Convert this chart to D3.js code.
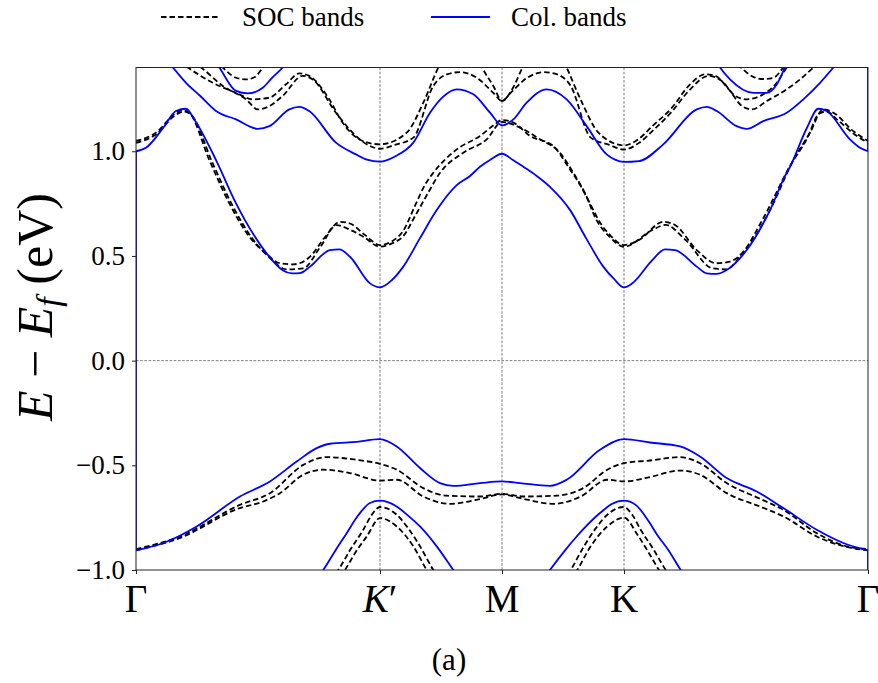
<!DOCTYPE html>
<html>
<head>
<meta charset="utf-8">
<script src="https://cdn.jsdelivr.net/npm/d3@7"></script>
<style>
  html, body { margin: 0; padding: 0; background: #fff; }
  svg { display: block; }
</style>
</head>
<body>
<svg id="chart" width="878" height="683"></svg>
<script>
// ---------- DATA (k-path coordinate, energy in eV) ----------
const kPositions = [0, 2, 3, 4, 6];
const kLabels = ["Γ", "K′", "M", "K", "Γ"];
const yTicks = [-1.0, -0.5, 0.0, 0.5, 1.0];
const legendLabels = ["SOC bands", "Col. bands"];
const panelLabel = "(a)";

// Collinear (Col.) bands, ordered from low to high energy
const colV2 = [[0.000,-1.700],[0.800,-1.450],[1.300,-1.150],[1.535,-1.000],[1.631,-0.910],[1.727,-0.824],[1.820,-0.740],[1.918,-0.680],[2.000,-0.669],[2.137,-0.697],[2.230,-0.740],[2.328,-0.792],[2.465,-0.887],[2.601,-1.000],[2.750,-1.120],[3.000,-1.200],[3.250,-1.120],[3.393,-1.000],[3.525,-0.900],[3.612,-0.840],[3.803,-0.728],[3.900,-0.685],[4.000,-0.669],[4.096,-0.689],[4.205,-0.770],[4.270,-0.830],[4.370,-0.910],[4.465,-1.000],[4.700,-1.150],[5.200,-1.450],[6.000,-1.700]];
const colV1 = [[0.000,-0.906],[0.224,-0.871],[0.498,-0.792],[0.852,-0.649],[1.098,-0.577],[1.317,-0.482],[1.481,-0.418],[1.590,-0.397],[1.809,-0.388],[2.000,-0.375],[2.137,-0.410],[2.328,-0.513],[2.492,-0.585],[2.601,-0.598],[2.820,-0.585],[3.000,-0.577],[3.148,-0.585],[3.393,-0.598],[3.530,-0.569],[3.803,-0.426],[4.000,-0.375],[4.213,-0.391],[4.459,-0.410],[4.623,-0.458],[4.842,-0.561],[5.088,-0.625],[5.306,-0.704],[5.580,-0.808],[5.798,-0.871],[6.000,-0.906]];
const colB1 = [[0.000,1.000],[0.082,1.017],[0.221,1.110],[0.328,1.192],[0.410,1.203],[0.478,1.152],[0.656,0.958],[0.820,0.751],[0.957,0.608],[1.093,0.496],[1.202,0.432],[1.279,0.417],[1.344,0.418],[1.426,0.449],[1.590,0.528],[1.666,0.531],[1.754,0.496],[1.918,0.369],[2.000,0.350],[2.098,0.385],[2.191,0.449],[2.328,0.585],[2.465,0.719],[2.629,0.838],[2.738,0.882],[2.820,0.926],[2.902,0.958],[3.000,0.988],[3.090,0.958],[3.175,0.926],[3.285,0.882],[3.393,0.830],[3.557,0.720],[3.689,0.585],[3.830,0.449],[3.918,0.390],[4.000,0.350],[4.068,0.369],[4.232,0.480],[4.336,0.531],[4.418,0.528],[4.596,0.449],[4.678,0.417],[4.760,0.414],[4.842,0.433],[5.006,0.528],[5.197,0.719],[5.320,0.882],[5.361,0.926],[5.498,1.110],[5.593,1.203],[5.661,1.192],[5.852,1.057],[5.934,1.017],[6.000,1.000]];
const colB2 = [[0.000,1.580],[0.115,1.500],[0.301,1.400],[0.410,1.327],[0.525,1.265],[0.656,1.192],[0.820,1.152],[0.998,1.107],[1.093,1.120],[1.257,1.200],[1.339,1.212],[1.420,1.192],[1.639,1.041],[1.803,0.985],[1.893,0.960],[2.000,0.950],[2.123,0.975],[2.273,1.041],[2.410,1.184],[2.516,1.260],[2.629,1.296],[2.765,1.272],[2.902,1.184],[3.000,1.124],[3.093,1.152],[3.202,1.232],[3.366,1.296],[3.530,1.248],[3.694,1.120],[3.858,0.985],[3.926,0.960],[4.000,0.949],[4.123,0.953],[4.322,1.033],[4.596,1.200],[4.678,1.212],[4.760,1.192],[4.924,1.120],[5.006,1.107],[5.142,1.144],[5.334,1.184],[5.470,1.248],[5.607,1.327],[5.716,1.400],[5.852,1.500],[6.000,1.580]];
const colB3 = [[0.000,1.750],[0.443,1.600],[0.683,1.400],[0.820,1.288],[0.916,1.276],[1.039,1.303],[1.115,1.350],[1.202,1.400],[1.344,1.520],[2.000,1.700],[3.000,1.750],[4.000,1.700],[4.664,1.520],[4.787,1.400],[4.869,1.343],[5.060,1.279],[5.170,1.279],[5.252,1.319],[5.320,1.400],[5.566,1.600],[6.000,1.750]];

// SOC bands
const socS4 = [[0.000,-1.800],[0.900,-1.500],[1.450,-1.150],[1.713,-1.000],[1.800,-0.915],[1.891,-0.840],[2.000,-0.752],[2.137,-0.792],[2.273,-0.887],[2.383,-1.000],[2.650,-1.200],[3.000,-1.280],[3.350,-1.200],[3.617,-1.000],[3.727,-0.887],[3.863,-0.792],[4.000,-0.750],[4.109,-0.830],[4.200,-0.915],[4.287,-1.000],[4.550,-1.150],[5.100,-1.500],[6.000,-1.800]];
const socS3 = [[0.000,-1.750],[0.900,-1.450],[1.400,-1.150],[1.658,-1.000],[1.760,-0.900],[1.863,-0.808],[1.934,-0.735],[2.000,-0.699],[2.137,-0.736],[2.230,-0.800],[2.328,-0.887],[2.437,-1.000],[2.700,-1.180],[3.000,-1.250],[3.300,-1.180],[3.563,-1.000],[3.672,-0.887],[3.770,-0.800],[3.863,-0.736],[4.000,-0.699],[4.066,-0.735],[4.137,-0.808],[4.240,-0.900],[4.342,-1.000],[4.600,-1.150],[5.100,-1.450],[6.000,-1.750]];
const socS2 = [[0.000,-0.906],[0.361,-0.847],[0.852,-0.704],[1.043,-0.673],[1.180,-0.633],[1.371,-0.545],[1.535,-0.521],[1.754,-0.537],[2.000,-0.573],[2.137,-0.569],[2.355,-0.649],[2.574,-0.684],[2.820,-0.661],[3.000,-0.639],[3.180,-0.661],[3.426,-0.684],[3.645,-0.649],[3.863,-0.569],[4.000,-0.577],[4.213,-0.556],[4.459,-0.525],[4.623,-0.545],[4.842,-0.633],[5.115,-0.697],[5.306,-0.744],[5.580,-0.840],[5.825,-0.890],[6.000,-0.906]];
const socS1 = [[0.000,-0.900],[0.361,-0.840],[0.852,-0.689],[1.098,-0.633],[1.371,-0.498],[1.563,-0.461],[1.809,-0.474],[2.000,-0.493],[2.137,-0.521],[2.355,-0.609],[2.547,-0.645],[2.820,-0.649],[3.000,-0.636],[3.180,-0.649],[3.453,-0.645],[3.666,-0.609],[3.863,-0.521],[4.000,-0.490],[4.213,-0.477],[4.459,-0.461],[4.623,-0.490],[4.842,-0.585],[5.115,-0.660],[5.306,-0.712],[5.580,-0.824],[5.825,-0.887],[6.000,-0.900]];
const socC1b = [[0.000,1.040],[0.164,1.080],[0.328,1.175],[0.393,1.190],[0.459,1.170],[0.623,0.950],[0.787,0.745],[0.951,0.585],[1.098,0.490],[1.235,0.436],[1.371,0.441],[1.508,0.540],[1.645,0.647],[1.754,0.625],[1.863,0.592],[2.000,0.544],[2.098,0.560],[2.191,0.595],[2.287,0.690],[2.393,0.800],[2.492,0.897],[2.683,0.993],[2.875,1.057],[3.000,1.140],[3.148,1.113],[3.311,1.057],[3.475,0.993],[3.584,0.898],[3.680,0.800],[3.775,0.671],[3.885,0.590],[4.000,0.544],[4.232,0.624],[4.341,0.648],[4.505,0.576],[4.724,0.441],[4.834,0.436],[4.970,0.512],[5.160,0.700],[5.361,0.930],[5.500,1.060],[5.600,1.180],[5.660,1.190],[5.750,1.150],[5.880,1.085],[6.000,1.040]];
const socC1a = [[0.000,1.049],[0.164,1.089],[0.328,1.184],[0.383,1.197],[0.437,1.184],[0.601,0.958],[0.765,0.751],[0.929,0.592],[1.066,0.512],[1.180,0.465],[1.289,0.460],[1.426,0.496],[1.549,0.590],[1.672,0.663],[1.754,0.655],[1.877,0.600],[2.000,0.552],[2.098,0.570],[2.191,0.620],[2.287,0.740],[2.369,0.840],[2.437,0.897],[2.533,0.960],[2.629,1.009],[2.820,1.073],[2.943,1.129],[3.000,1.149],[3.093,1.137],[3.230,1.073],[3.420,1.025],[3.557,0.913],[3.639,0.840],[3.721,0.751],[3.803,0.660],[3.885,0.600],[4.000,0.552],[4.123,0.576],[4.322,0.663],[4.418,0.648],[4.596,0.528],[4.760,0.465],[4.869,0.473],[5.006,0.537],[5.197,0.719],[5.389,0.958],[5.525,1.089],[5.634,1.200],[5.716,1.184],[5.880,1.096],[6.000,1.049]];
const socC2b = [[0.000,1.600],[0.279,1.480],[0.533,1.400],[0.711,1.312],[0.902,1.248],[0.998,1.200],[1.066,1.208],[1.202,1.264],[1.366,1.360],[1.448,1.343],[1.639,1.184],[1.803,1.073],[1.918,1.025],[2.000,1.012],[2.120,1.030],[2.273,1.065],[2.437,1.312],[2.547,1.367],[2.656,1.378],[2.793,1.351],[2.929,1.279],[3.000,1.240],[3.071,1.279],[3.207,1.351],[3.344,1.378],[3.453,1.367],[3.563,1.312],[3.727,1.065],[3.880,1.030],[4.000,1.008],[4.123,1.040],[4.232,1.096],[4.393,1.190],[4.530,1.288],[4.694,1.360],[4.803,1.335],[4.912,1.264],[5.006,1.248],[5.115,1.264],[5.252,1.327],[5.334,1.400],[5.566,1.520],[6.000,1.600]];
const socC2a = [[0.000,1.620],[0.197,1.500],[0.437,1.395],[0.629,1.327],[0.820,1.279],[0.957,1.248],[1.093,1.256],[1.230,1.320],[1.339,1.372],[1.420,1.360],[1.584,1.248],[1.694,1.136],[1.858,1.049],[2.000,1.033],[2.219,1.089],[2.355,1.232],[2.478,1.400],[2.574,1.500],[2.672,1.540],[2.770,1.480],[2.836,1.400],[2.929,1.312],[3.000,1.240],[3.087,1.300],[3.169,1.400],[3.250,1.480],[3.350,1.540],[3.450,1.500],[3.530,1.400],[3.656,1.232],[3.790,1.089],[4.000,1.028],[4.123,1.060],[4.232,1.120],[4.393,1.208],[4.530,1.312],[4.666,1.367],[4.748,1.360],[4.858,1.296],[4.967,1.216],[5.049,1.200],[5.170,1.240],[5.334,1.296],[5.443,1.343],[5.552,1.400],[5.770,1.520],[6.000,1.620]];
const socD = [[0.000,1.800],[0.500,1.550],[0.711,1.400],[0.820,1.351],[0.902,1.343],[0.975,1.355],[1.041,1.400],[1.300,1.600],[3.000,1.800],[4.700,1.600],[4.959,1.400],[5.060,1.355],[5.142,1.345],[5.225,1.351],[5.307,1.400],[5.500,1.550],[6.000,1.800]];

const colBands = [colV2, colV1, colB1, colB2, colB3];
const socBands = [socS4, socS3, socS2, socS1, socC1b, socC1a, socC2b, socC2a, socD];

// ---------- DRAWING ----------
const FONT = "Liberation Serif";
const plot = { left: 136, right: 868, top: 67.5, bottom: 570 };
const svg = d3.select("#chart");

const x = d3.scaleLinear().domain([0, 6]).range([plot.left, plot.right]);
const y = d3.scaleLinear().domain([-1.0, 1.4]).range([plot.bottom, plot.top]);

svg.append("defs").append("clipPath").attr("id", "clip")
  .append("rect")
  .attr("x", plot.left).attr("y", plot.top)
  .attr("width", plot.right - plot.left).attr("height", plot.bottom - plot.top);

// reference lines
const grid = svg.append("g");
grid.selectAll("line.v").data(kPositions.slice(1, -1)).enter().append("line")
  .attr("x1", d => x(d)).attr("x2", d => x(d))
  .attr("y1", plot.top).attr("y2", plot.bottom)
  .attr("stroke", "#444").attr("stroke-width", 0.7).attr("stroke-dasharray", "2.6,1.6");
grid.append("line")
  .attr("x1", plot.left).attr("x2", plot.right)
  .attr("y1", y(0)).attr("y2", y(0))
  .attr("stroke", "#444").attr("stroke-width", 0.7).attr("stroke-dasharray", "2.6,1.6");

const line = d3.line().x(d => x(d[0])).y(d => y(d[1])).curve(d3.curveMonotoneX);
const gBands = svg.append("g").attr("clip-path", "url(#clip)");

gBands.selectAll("path.soc").data(socBands).enter().append("path")
  .attr("class", "soc").attr("d", line)
  .attr("fill", "none").attr("stroke", "#000")
  .attr("stroke-width", 1.8).attr("stroke-dasharray", "5.5,3");

gBands.selectAll("path.col").data(colBands).enter().append("path")
  .attr("class", "col").attr("d", line)
  .attr("fill", "none").attr("stroke", "#0000ff")
  .attr("stroke-width", 1.8);

// edge connectors of the blue bands (bands drawn as one snaking polyline)
const connectors = [];
for (let i = 0; i < colBands.length - 1; i++) {
  const a = colBands[i], b = colBands[i + 1];
  if (i % 2 === 0) connectors.push([a[a.length - 1], b[b.length - 1]]);
  else connectors.push([a[0], b[0]]);
}
const straight = d3.line().x(d => x(d[0])).y(d => y(d[1]));
gBands.selectAll("path.conn").data(connectors).enter().append("path")
  .attr("d", straight).attr("fill", "none")
  .attr("stroke", "#0000ff").attr("stroke-width", 1.8);

// frame
svg.append("rect")
  .attr("x", plot.left).attr("y", plot.top)
  .attr("width", plot.right - plot.left).attr("height", plot.bottom - plot.top)
  .attr("fill", "none").attr("stroke", "#222").attr("stroke-width", 1);

// y axis
const yAxis = d3.axisLeft(y).tickValues(yTicks).tickSize(4).tickPadding(7)
  .tickFormat(d3.format(".1f"));
const gy = svg.append("g").attr("transform", `translate(${plot.left},0)`).call(yAxis)
  .attr("font-family", FONT).attr("font-size", 27);
gy.select(".domain").remove();
gy.selectAll("line").attr("stroke", "#222");
gy.selectAll("text").attr("font-family", FONT).attr("font-size", 27).attr("fill", "#000");

// x axis
const xAxis = d3.axisBottom(x).tickValues(kPositions).tickSize(4).tickFormat("");
const gx = svg.append("g").attr("transform", `translate(0,${plot.bottom})`).call(xAxis);
gx.select(".domain").remove();
gx.selectAll("line").attr("stroke", "#222");

const xl = svg.append("g");
kPositions.forEach((p, i) => {
  const t = xl.append("text")
    .attr("x", x(p)).attr("y", 612)
    .attr("font-family", FONT)
    .attr("text-anchor", "middle").attr("font-size", 39);
  if (kLabels[i] === "K′") {
    t.append("tspan").attr("font-style", "italic").text("K");
    t.append("tspan").text("′");
  } else {
    t.text(kLabels[i]);
  }
});

// y label
const yl = svg.append("text")
  .attr("transform", "translate(52,307) rotate(-90)")
  .attr("font-family", FONT)
  .attr("text-anchor", "middle").attr("font-size", 50);
yl.append("tspan").attr("font-style", "italic").text("E");
yl.append("tspan").text(" − ");
yl.append("tspan").attr("font-style", "italic").text("E");
yl.append("tspan").attr("font-style", "italic").attr("font-size", 34).attr("dy", 8).text("f");
yl.append("tspan").attr("dy", -8).text(" (eV)");

// panel label
svg.append("text").attr("x", 449).attr("y", 670)
  .attr("font-family", FONT)
  .attr("text-anchor", "middle").attr("font-size", 31).text(panelLabel);

// legend
const lg = svg.append("g");
lg.append("line").attr("x1", 161).attr("x2", 219).attr("y1", 17).attr("y2", 17)
  .attr("stroke", "#000").attr("stroke-width", 1.8).attr("stroke-dasharray", "5.5,3");
lg.append("text").attr("x", 242).attr("y", 26).attr("font-family", FONT)
  .attr("font-size", 27).text(legendLabels[0]);
lg.append("line").attr("x1", 431).attr("x2", 490).attr("y1", 17).attr("y2", 17)
  .attr("stroke", "#0000ff").attr("stroke-width", 1.8);
lg.append("text").attr("x", 511).attr("y", 26).attr("font-family", FONT)
  .attr("font-size", 27).text(legendLabels[1]);
</script>
</body>
</html>
